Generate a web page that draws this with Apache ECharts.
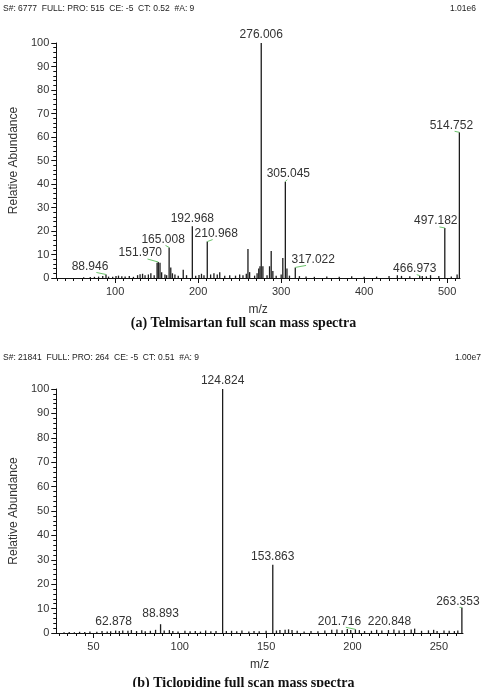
<!DOCTYPE html>
<html>
<head>
<meta charset="utf-8">
<script src="https://cdn.jsdelivr.net/npm/echarts@6/dist/echarts.min.js"></script>
<style>
  html, body { margin: 0; padding: 0; background: #fff; }
  #chart { width: 487px; height: 687px; }
</style>
</head>
<body>
<div id="chart"></div>
<script>
// (a) Telmisartan - peaks (m/z, relative abundance)
var mzA = [62, 70, 75, 80, 85, 88.946, 92, 97, 101, 104, 108, 112, 117, 122, 127, 130, 133, 136, 140, 143, 147,
    150.5, 151.970, 154, 156, 160, 162, 165.008, 167, 169, 172, 176, 182, 186, 192.968, 197, 201, 204, 207,
    210.968, 215, 219, 223, 226, 232, 238, 245, 250, 254, 258, 260, 262, 268, 271, 273, 274.5, 276.006, 278,
    283, 286, 288, 290, 294, 300, 302, 305.045, 307, 310, 317.022, 322, 330, 340, 355, 370, 385, 400, 415,
    430, 440, 445, 455, 466.973, 470, 475, 480, 490, 497.182, 505, 512, 514.752];
var intA = [0.3, 0.4, 0.5, 0.6, 0.8, 1.5, 0.6, 0.5, 0.9, 1.0, 0.7, 0.6, 0.8, 0.5, 1.2, 1.6, 1.8, 1.2, 1.5, 2.0, 1.2,
    6.5, 6.8, 6.5, 2.5, 1.5, 1.2, 13, 4.5, 2.0, 1.5, 1.0, 3.5, 1.2, 22, 1.0, 1.3, 1.8, 1.2,
    15.5, 1.5, 2.0, 1.5, 2.5, 1.0, 1.2, 1.0, 1.5, 1.2, 1.8, 12.3, 2.5, 1.0, 2.0, 4.0, 5.0, 100, 5.0,
    1.2, 5.0, 11.5, 3.0, 1.0, 1.5, 8.5, 41, 4.0, 1.0, 4.5, 0.8, 0.6, 0.5, 0.6, 0.5, 0.7, 0.5, 0.6,
    0.8, 1.2, 0.9, 0.7, 1.0, 0.8, 0.7, 1.2, 0.8, 21.3, 0.6, 1.5, 62];
var labelMzA = [88.946, 151.970, 165.008, 192.968, 210.968, 276.006, 305.045, 317.022, 466.973, 497.182, 514.752];
var labelIntA = [1.5, 6.8, 13, 22, 15.5, 100, 41, 4.5, 1.0, 21.3, 62];
var labelTextA = ['88.946', '151.970', '165.008', '192.968', '210.968', '276.006', '305.045', '317.022', '466.973', '497.182', '514.752'];
var ticksA = [100, 200, 300, 400, 500];

// (b) Ticlopidine
var mzB = [33, 36, 39, 42, 45, 48, 52, 55, 58, 60, 62.878, 65, 67, 70, 72, 75, 78, 80, 83, 86, 88.893, 91, 94, 96,
    99, 103, 106, 109, 112, 115, 118, 121, 124.824, 127, 130, 133, 136, 140, 143, 146, 150, 153.863, 156, 158,
    161, 163, 165, 168, 172, 176, 180, 184, 188, 191, 194, 197, 199, 201.716, 204, 207, 211, 214, 217,
    220.848, 224, 227, 230, 234, 236, 240, 244, 247, 249, 253, 256, 259, 261, 263.353];
var intB = [0.3, 0.4, 0.3, 0.5, 0.4, 0.6, 0.5, 0.8, 0.6, 0.7, 1.0, 0.8, 1.0, 0.9, 1.2, 0.8, 1.1, 0.7, 0.9, 1.3, 3.6, 1.0, 1.2, 0.8,
    0.6, 0.9, 0.7, 0.8, 0.6, 1.0, 0.7, 0.8, 100, 0.8, 0.9, 0.7, 1.0, 0.6, 0.8, 0.7, 0.9, 28, 1.0, 1.2,
    1.3, 1.5, 1.2, 0.9, 0.6, 0.8, 0.7, 1.0, 1.3, 1.4, 1.1, 1.6, 1.2, 1.5, 1.2, 0.8, 0.9, 1.3, 1.0,
    1.2, 1.4, 1.0, 1.2, 1.4, 1.8, 0.9, 1.1, 1.3, 0.8, 1.0, 0.9, 0.8, 1.0, 10.5];
var labelMzB = [62.878, 88.893, 124.824, 153.863, 201.716, 220.848, 263.353];
var labelIntB = [1.0, 3.6, 100, 28, 1.5, 1.2, 10.5];
var labelTextB = ['62.878', '88.893', '124.824', '153.863', '201.716', '220.848', '263.353'];
var ticksB = [50, 100, 150, 200, 250];

// label placement (px offsets of the label centre from the peak top)
var labelOffA = [[-16, -8], [-18, -9], [-6, -8], [0, -8], [9, -8], [0, -8], [3, -8], [18, -8], [-5, -7], [-9, -7], [-8, -7]];
var labelOffB = [[-2, -9], [0, -11], [0, -8], [0, -8], [-16, -8], [1, -8], [-4, -6]];

var textColor = '#333';
var fontSans = 'Liberation Sans, Arial, sans-serif';

function pairs(xs, ys) {
    return xs.map(function (x, i) { return [x, ys[i]]; });
}

function minorValues(min, max, step) {
    var out = [];
    for (var v = Math.ceil(min / step) * step; v <= max; v += step) out.push(v);
    return out;
}

function renderPeak(params, api) {
    var p0 = api.coord([api.value(0), 0]);
    var p1 = api.coord([api.value(0), api.value(1)]);
    return {
        type: 'line',
        shape: { x1: p0[0], y1: p0[1], x2: p1[0], y2: p1[1] },
        style: { stroke: '#1c1c1c', lineWidth: 1.3 }
    };
}

function makeLabelRenderer(texts, offsets) {
    return function (params, api) {
        var i = params.dataIndex;
        var p = api.coord([api.value(0), api.value(1)]);
        var lx = p[0] + offsets[i][0];
        var ly = p[1] + offsets[i][1];
        var children = [{
            type: 'text',
            x: lx, y: ly,
            style: {
                text: texts[i], fill: textColor, font: '12px ' + fontSans,
                align: 'center', verticalAlign: 'middle'
            }
        }];
        if (Math.abs(offsets[i][0]) >= 3) {
            children.push({
                type: 'line',
                shape: { x1: p[0], y1: p[1], x2: lx + (p[0] - lx) * 0.4, y2: ly + 6 },
                style: { stroke: '#6cc36c', lineWidth: 1 }
            });
        }
        return { type: 'group', children: children };
    };
}

function mainX(gridIndex, min, max, ticks) {
    return {
        type: 'value', gridIndex: gridIndex, min: min, max: max,
        name: 'm/z', nameLocation: 'middle', nameGap: 26,
        nameTextStyle: { color: textColor, fontSize: 12, fontFamily: fontSans },
        axisLine: { lineStyle: { color: '#111', width: 1 } },
        axisTick: { customValues: ticks, length: 5, lineStyle: { color: '#111' } },
        axisLabel: { customValues: ticks, color: textColor, fontSize: 11, fontFamily: fontSans, margin: 8 },
        splitLine: { show: false }
    };
}

function minorX(gridIndex, min, max, step) {
    return {
        type: 'value', gridIndex: gridIndex, min: min, max: max, position: 'bottom',
        axisLine: { show: false },
        axisTick: { customValues: minorValues(min, max, step), length: 3, lineStyle: { color: '#111' } },
        axisLabel: { show: false },
        splitLine: { show: false }
    };
}

function yAx(gridIndex, nameGap) {
    return {
        type: 'value', gridIndex: gridIndex, min: 0, max: 100, interval: 10,
        name: 'Relative Abundance', nameLocation: 'middle', nameGap: nameGap, nameRotate: 90,
        nameTextStyle: { color: textColor, fontSize: 12, fontFamily: fontSans },
        axisLine: { show: true, lineStyle: { color: '#111', width: 1 } },
        axisTick: { show: true, length: 5, lineStyle: { color: '#111' } },
        minorTick: { show: true, splitNumber: 5, length: 3, lineStyle: { color: '#111' } },
        axisLabel: { color: textColor, fontSize: 11, fontFamily: fontSans, margin: 7 },
        splitLine: { show: false }
    };
}

var chart = echarts.init(document.getElementById('chart'));

var option = {
    animation: false,
    backgroundColor: '#fff',
    grid: [
        { left: 51, right: 27, top: 43, height: 235 },
        { left: 49, right: 24, top: 389, height: 244 }
    ],
    xAxis: [
        mainX(0, 29, 515.5, ticksA),
        mainX(1, 28.5, 264, ticksB),
        minorX(0, 29, 515.5, 10),
        minorX(1, 28.5, 264, 5)
    ],
    yAxis: [yAx(0, 30), yAx(1, 31)],
    series: [
        { type: 'custom', xAxisIndex: 0, yAxisIndex: 0, renderItem: renderPeak, data: pairs(mzA, intA), silent: true },
        { type: 'custom', xAxisIndex: 1, yAxisIndex: 1, renderItem: renderPeak, data: pairs(mzB, intB), silent: true },
        { type: 'custom', xAxisIndex: 0, yAxisIndex: 0, clip: false, renderItem: makeLabelRenderer(labelTextA, labelOffA), data: pairs(labelMzA, labelIntA), silent: true },
        { type: 'custom', xAxisIndex: 1, yAxisIndex: 1, clip: false, renderItem: makeLabelRenderer(labelTextB, labelOffB), data: pairs(labelMzB, labelIntB), silent: true }
    ],
    graphic: [
        { type: 'text', left: 3, top: 4, style: { text: 'S#: 6777  FULL: PRO: 515  CE: -5  CT: 0.52  #A: 9', fill: '#222', font: '8.5px ' + fontSans } },
        { type: 'text', left: 450, top: 4, style: { text: '1.01e6', fill: '#222', font: '8.5px ' + fontSans } },
        { type: 'text', left: 'center', top: 316, style: { text: '(a) Telmisartan full scan mass spectra', fill: '#111', font: 'bold 14px Liberation Serif, Times New Roman, serif' } },
        { type: 'text', left: 3, top: 353, style: { text: 'S#: 21841  FULL: PRO: 264  CE: -5  CT: 0.51  #A: 9', fill: '#222', font: '8.5px ' + fontSans } },
        { type: 'text', left: 455, top: 353, style: { text: '1.00e7', fill: '#222', font: '8.5px ' + fontSans } },
        { type: 'text', left: 'center', top: 676, style: { text: '(b) Ticlopidine full scan mass spectra', fill: '#111', font: 'bold 14px Liberation Serif, Times New Roman, serif' } }
    ]
};

chart.setOption(option);
</script>
</body>
</html>
